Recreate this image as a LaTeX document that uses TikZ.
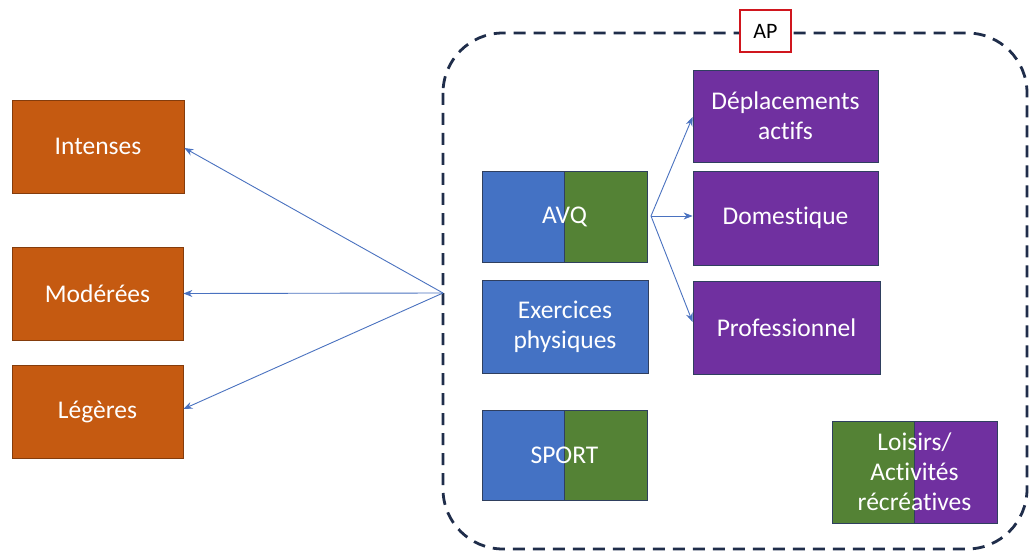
\documentclass[tikz,border=0pt]{standalone}
\usepackage{fontspec}
\setmainfont{Carlito}[RawFeature={-liga}]
\usetikzlibrary{arrows.meta}
\definecolor{orangebox}{HTML}{C55A11}
\definecolor{orangeedge}{HTML}{843C0C}
\definecolor{bluebox}{HTML}{4472C4}
\definecolor{greenbox}{HTML}{548235}
\definecolor{purplebox}{HTML}{7030A0}
\definecolor{boxedge}{HTML}{2F3F5F}
\definecolor{navy}{HTML}{1F2D4A}
\definecolor{arrowblue}{HTML}{4A72C0}
\definecolor{apred}{HTML}{D0161E}
\tikzset{
  box/.style={minimum width=#1, inner sep=0pt, text=white, align=center,
    font=\fontsize{25.5}{30}\selectfont},
  orangenode/.style={box=171pt, minimum height=93pt, fill=orangebox, draw=orangeedge, line width=0.8pt},
  purplenode/.style={box=185pt, minimum height=93pt, fill=purplebox, draw=boxedge, line width=0.8pt},
  bluenode/.style={box=166pt, minimum height=93pt, fill=bluebox, draw=boxedge, line width=0.8pt},
  splitnode/.style n args={2}{box=165pt, minimum height=91pt, draw=boxedge, line width=0.8pt,
    path picture={
      \fill[#1] (path picture bounding box.south west) rectangle (path picture bounding box.north);
      \fill[#2] (path picture bounding box.south) rectangle (path picture bounding box.north east);
      \draw[boxedge, line width=0.8pt] (path picture bounding box.south) -- (path picture bounding box.north);
    }},
  link/.style={arrowblue, line width=0.9pt, -{Stealth[length=9pt,width=7pt]}},
}
\begin{document}
\begin{tikzpicture}[x=1pt, y=-1pt]
\useasboundingbox (0,0) rectangle (1030,556);
\fill[white] (0,0) rectangle (1030,556);

% AP frame
\draw[navy, line width=2.8pt, dash pattern=on 12pt off 8pt, rounded corners=60pt]
  (443,33) rectangle (1027,549);
\node[draw=apred, line width=2.4pt, fill=white, minimum width=51pt, minimum height=42pt,
  inner sep=0pt, font=\fontsize{22}{26}\selectfont] (ap) at (765.5,31) {AP};

% intensity boxes
\node[orangenode, minimum width=172pt] (intenses) at (98,146.5) {Intenses};
\node[orangenode] (moderees) at (97.5,293.5) {Modérées};
\node[orangenode] (legeres) at (97.5,411.5) {Légères};

% activity types
\node[splitnode={bluebox}{greenbox}] (avq) at (564.5,216.5) {AVQ};
\node[bluenode] (exercices) at (565,326.5) {Exercices\\physiques};
\node[splitnode={bluebox}{greenbox}, minimum height=90pt] (sport) at (564.5,455) {SPORT};

\node[purplenode, minimum height=92pt] (deplacements) at (785.5,116) {Déplacements\\actifs};
\node[purplenode, minimum height=94pt] (domestique) at (785.5,218) {Domestique};
\node[purplenode, minimum width=187pt] (professionnel) at (786.5,327.5) {Professionnel};

\node[splitnode={greenbox}{purplebox}, minimum height=102pt] (loisirs) at (914.5,472)
  {Loisirs/\\Activités\\récréatives};

% connectors
\coordinate (hub) at (443,293);
\draw[link] (hub) -- (intenses.east |- 0,148);
\draw[link] (hub) -- (moderees.east);
\draw[link] (hub) -- (legeres.east |- 0,409);

\coordinate (fork) at (651,216);
\draw[link] (fork) -- (deplacements.west |- 0,117);
\draw[link] (fork) -- (domestique.west |- 0,216);
\draw[link] (fork) -- (professionnel.west |- 0,322);
\end{tikzpicture}
\end{document}
